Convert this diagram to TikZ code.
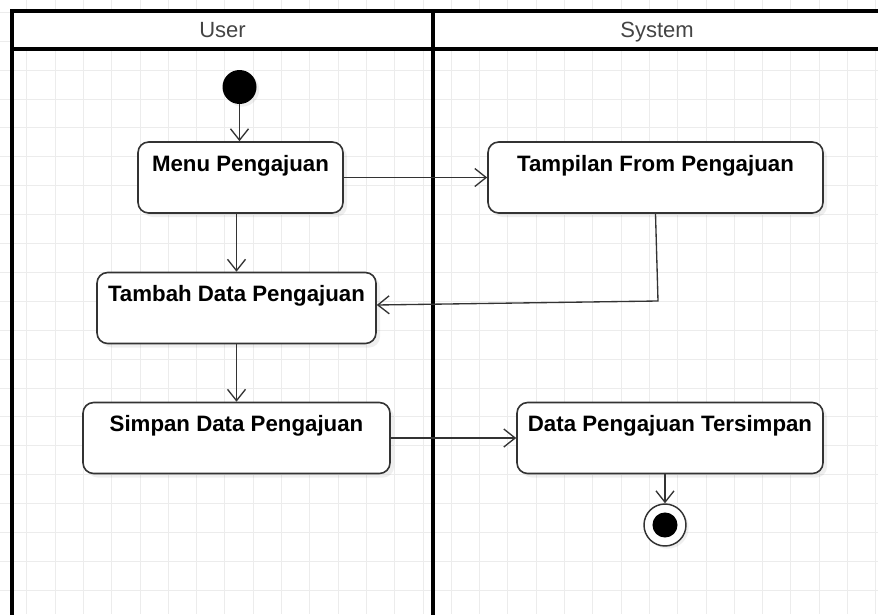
\documentclass[tikz,border=0pt]{standalone}
\usepackage{fontspec}
\setmainfont{Liberation Sans}
\usetikzlibrary{arrows.meta,shadows}
\definecolor{gridc}{HTML}{ECECEC}
\definecolor{edgec}{HTML}{333333}
\definecolor{headc}{HTML}{444444}
\tikzset{
  lane/.style={line width=2.4pt, draw=black},
  headtxt/.style={font=\fontsize{16.5}{20}\selectfont, text=headc,
    text height=12pt, text depth=3.5pt, inner sep=0pt},
  actbox/.style={draw=edgec, line width=1.2pt, fill=white, rounded corners=8pt,
    inner sep=0pt, text height=22pt, text depth=31.25pt, minimum height=53.25pt,
    font=\fontsize{16.7}{20}\selectfont\bfseries,
    drop shadow={opacity=0.12, shadow xshift=3pt, shadow yshift=-3pt}},
  startnode/.style={circle, fill=black, inner sep=0pt, minimum size=25.5pt,
    drop shadow={opacity=0.12, shadow xshift=2pt, shadow yshift=-2pt}},
  endnode/.style={circle, draw=edgec, line width=1.1pt, fill=white, inner sep=0pt,
    minimum size=31.5pt,
    drop shadow={opacity=0.12, shadow xshift=2pt, shadow yshift=-2pt},
    path picture={\fill[black] (path picture bounding box.center) circle (9.4pt);}},
  flow/.style={draw=edgec, line width=1pt, -{Straight Barb[length=8.5pt,width=13.5pt]}}
}
\begin{document}
\begin{tikzpicture}[x=0.75pt,y=-0.75pt]
\useasboundingbox (0,0) rectangle (878,614);
\clip (0,0) rectangle (878,614);
\fill[white] (0,0) rectangle (878,614);
% background grid
\foreach \k in {0,...,30} \draw[gridc, line width=0.6pt] ({26.7+\k*28.3},0) -- ({26.7+\k*28.3},614);
\foreach \k in {0,...,20} \draw[gridc, line width=0.6pt] (0,{12.2+\k*28.9}) -- (878,{12.2+\k*28.9});
% swimlanes
\fill[white] (12,11) rectangle (890,49);
\draw[lane] (12,620) -- (12,11) -- (890,11);
\draw[lane] (12,49) -- (890,49);
\draw[lane] (433,11) -- (433,620);
\node[headtxt] (huser) at (222.5,31.5) {User};
\node[headtxt] (hsys) at (657,31.5) {System};
% activities
\node[startnode] (init) at (239.5,87) {};
\node[actbox, minimum width=153.75pt] (menu) at (240.5,177.5) {Menu Pengajuan};
\node[actbox, minimum width=251.25pt] (tampil) at (655.5,177.5) {Tampilan From Pengajuan};
\node[actbox, minimum width=209.25pt] (tambah) at (236.5,308) {Tambah Data Pengajuan};
\node[actbox, minimum width=230.25pt] (simpan) at (236.5,438) {Simpan Data Pengajuan};
\node[actbox, minimum width=229.5pt] (data) at (670,438) {Data Pengajuan Tersimpan};
\node[endnode] (final) at (665,525) {};
\coordinate (bend) at (658,301);
% transitions
\draw[flow] (init.south) -- (init.south |- menu.north);
\draw[flow] (menu.east) -- (tampil.west);
\draw[flow] (menu.south -| tambah.north) -- (tambah.north);
\draw[flow] (tampil.south) -- (bend) -- ([yshift=2.25pt]tambah.east);
\draw[flow] (tambah.south) -- (simpan.north);
\draw[flow] (simpan.east) -- (data.west);
\draw[flow] (data.south -| final.north) -- (final.north);
\end{tikzpicture}
\end{document}
